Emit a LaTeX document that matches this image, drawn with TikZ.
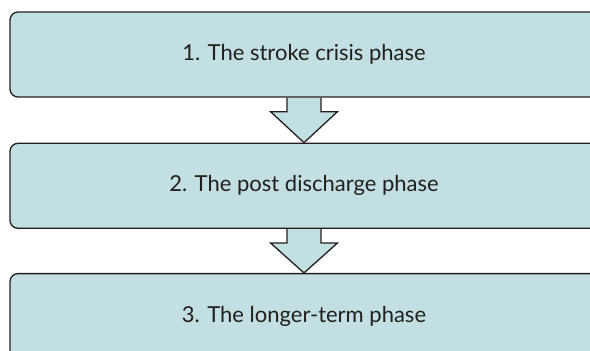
\documentclass[tikz,border=0pt]{standalone}
\usepackage{fontspec}
\setmainfont{Lato}
\usetikzlibrary{positioning,calc,backgrounds}
\definecolor{phasefill}{HTML}{C2DFE1}
\definecolor{phaseline}{HTML}{231F20}
\tikzset{
    phase/.style={draw=phaseline, fill=phasefill, line width=1.3pt, rounded corners=8pt,
        minimum width=588pt, minimum height=85pt, text=phaseline,
        font=\fontsize{22}{26}\selectfont},
    flow/.style={draw=phaseline, fill=phasefill, line width=1.3pt}
}
\begin{document}
\begin{tikzpicture}[x=1pt,y=-1pt]
        \useasboundingbox (0,0) rectangle (590,351);
        \clip (0,0) rectangle (590,351);
        \node[phase] (s1) at (304,54.5) {1. The stroke crisis phase};
        \node[phase, below=45pt of s1] (s2) {2. The post discharge phase};
        \node[phase, below=44pt of s2] (s3) {3. The longer-term phase};
        % block arrows between the phases
        \begin{scope}[on background layer]
        \foreach \a/\b in {s1/s2, s2/s3}
            \draw[flow] ($(\a.south)+(-17,0)$) -- ++(0,14) -- ++(-16.5,0) -- (\b.north)
                -- ($(\a.south)+(33.5,14)$) -- ++(-16.5,0) -- ($(\a.south)+(17,0)$);
        \end{scope}
    \end{tikzpicture}
\end{document}
